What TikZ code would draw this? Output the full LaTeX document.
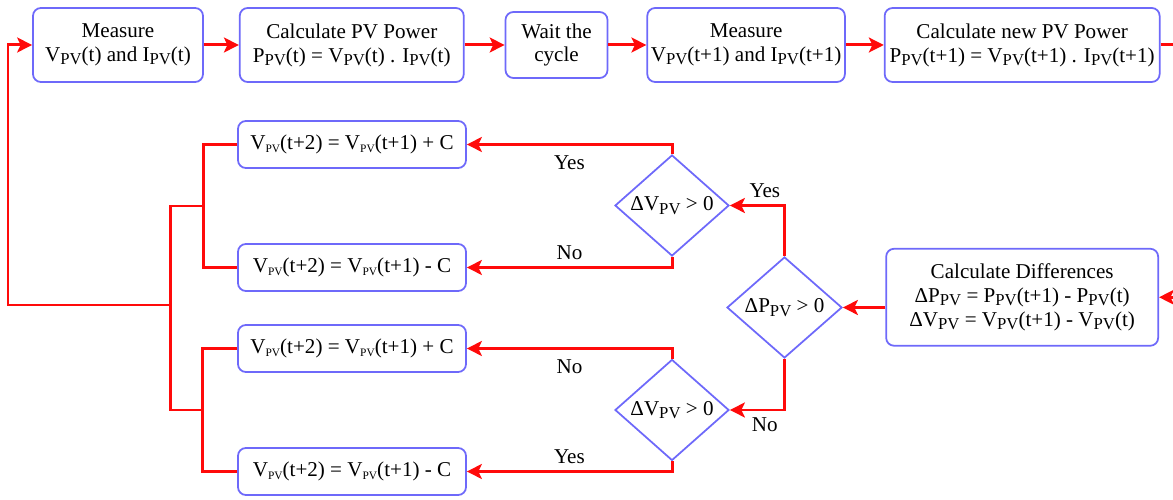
\documentclass[tikz,border=0pt]{standalone}
\usepackage{fontspec}
\setmainfont{Liberation Serif}
\newfontfamily\tnr{Liberation Serif}
\usepackage{tikz}
\usetikzlibrary{arrows.meta,positioning,calc,shapes.geometric}
\definecolor{boxblue}{RGB}{110,105,250}
\definecolor{flowred}{RGB}{255,10,10}
\newcommand{\PVs}{\raisebox{-0.35ex}{\fontsize{9.5}{9.5}\selectfont PV}}
\newcommand{\pvs}{\raisebox{-0.3ex}{\fontsize{6.5}{6.5}\selectfont PV}}

\begin{document}
\begin{tikzpicture}[node distance=0.76cm, every node/.style={font=\tnr\fontsize{12}{13.6}\selectfont},
    box/.style={draw=boxblue, line width=1pt, rounded corners=4.5pt, fill=white, align=center, inner sep=2pt},
    decision/.style={draw=boxblue, line width=1pt, diamond, inner sep=0pt, minimum width=2.28cm, minimum height=2.02cm},
    joinline/.style={draw=flowred, line width=1.7pt},
    flow/.style={joinline, -{Stealth[length=8.5pt,width=8.5pt,inset=2pt]}}]
    \useasboundingbox (0,0) rectangle (23.46,-10);
    % top row
    \node[box, minimum width=3.4cm, minimum height=1.48cm] (meas1) at (2.36,-0.9) {Measure\\V\PVs(t) and I\PVs(t)};
    \node[box, right=0.7cm of meas1, minimum width=4.48cm, minimum height=1.48cm] (calcP) {Calculate PV Power\\P\PVs(t) = V\PVs(t) . I\PVs(t)};
    \node[box, right=0.8cm of calcP, minimum width=2.04cm, minimum height=1.32cm] (wait) {Wait the\\cycle};
    \node[box, right=of wait, minimum width=3.86cm, minimum height=1.48cm] (meas2) {Measure\\V\PVs(t+1) and I\PVs(t+1)};
    \node[box, right=of meas2, minimum width=5.5cm, minimum height=1.48cm] (calcPnew) {Calculate new PV Power\\P\PVs(t+1) = V\PVs(t+1) . I\PVs(t+1)};
    \node[box, below=3.3cm of calcPnew, minimum width=5.44cm, minimum height=1.94cm] (diff) {Calculate Differences\\ΔP\PVs{} = P\PVs(t+1) - P\PVs(t)\\ΔV\PVs{} = V\PVs(t+1) - V\PVs(t)};
    % decisions
    \node[decision, minimum width=2.3cm] (dP) at (15.69,-6.15) {ΔP\PVs{} > 0};
    \node[decision] (dVup) at (13.44,-4.11) {ΔV\PVs{} > 0};
    \node[decision] (dVlo) at (13.44,-8.2) {ΔV\PVs{} > 0};
    % voltage updates
    \node[box, minimum width=4.56cm, minimum height=0.94cm] (incA) at (7.04,-2.89) {V\pvs(t+2) = V\pvs(t+1) + C};
    \node[box, minimum width=4.56cm, minimum height=0.94cm] (decA) at (7.04,-5.35) {V\pvs(t+2) = V\pvs(t+1) - C};
    \node[box, minimum width=4.56cm, minimum height=0.94cm] (incB) at (7.04,-6.97) {V\pvs(t+2) = V\pvs(t+1) + C};
    \node[box, minimum width=4.56cm, minimum height=0.94cm] (decB) at (7.04,-9.43) {V\pvs(t+2) = V\pvs(t+1) - C};

    \coordinate (jA) at ([xshift=-0.68cm]$(incA.west)!0.5!(decA.west)$);
    \coordinate (jB) at ([xshift=-0.7cm]$(incB.west)!0.5!(decB.west)$);
    \coordinate (mergeA) at ([xshift=-0.66cm]jA);
    \coordinate (retpt) at (0.16,-6.1);

    \draw[flow] (meas1) -- (calcP);
    \draw[flow] (calcP) -- (wait);
    \draw[flow] (wait) -- (meas2);
    \draw[flow] (meas2) -- (calcPnew);
    \draw[flow] (calcPnew.east) -- ++(0.46,0) |- (diff.east);
    \draw[flow] (diff.west |- dP.east) -- (dP.east);
    \draw[flow] (dP.north) |- (dVup.east) node[pos=0.68, above] {Yes};
    \draw[flow] (dP.south) |- (dVlo.east) node[pos=0.68, below] {No};
    \draw[flow] (dVup.north) |- (incA.east) node[pos=0.75, below=2pt] {Yes};
    \draw[flow] (dVup.south) |- (decA.east) node[pos=0.75, above] {No};
    \draw[flow] (dVlo.north) |- (incB.east) node[pos=0.75, below=2pt] {No};
    \draw[flow] (dVlo.south) |- (decB.east) node[pos=0.75, above] {Yes};
    % merge back to the start
    \draw[joinline] (incA.west) -| (jA) |- (decA.west);
    \draw[joinline] (incB.west) -| (jB) |- (decB.west);
    \draw[joinline, line cap=rect] (jA) -- (mergeA) -- (mergeA |- jB) -- (jB);
    \draw[flow] (mergeA |- retpt) -- (retpt) -- (retpt |- meas1.west) -- (meas1.west);
\end{tikzpicture}
\end{document}
